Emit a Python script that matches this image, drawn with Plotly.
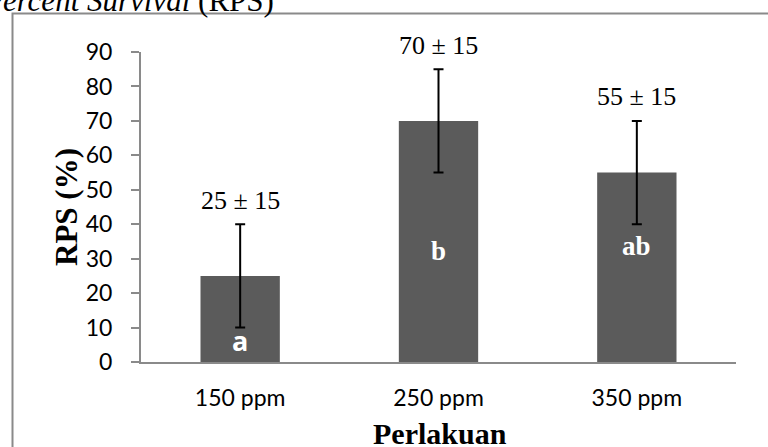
import plotly.graph_objects as go

categories = ["150 ppm", "250 ppm", "350 ppm"]
rps_values = [25, 70, 55]
rps_errors = [15, 15, 15]
letters = ["a", "b", "ab"]
y_ticks = [0, 10, 20, 30, 40, 50, 60, 70, 80, 90]

W, H = 768, 447
L, R, T, B = 141, 32, 52, 85
pw, ph = W - L - R, H - T - B

def px(x):
    return (x - L) / pw

def py(y):
    return (H - B - y) / ph

BAR = "#5b5b5b"
AXIS = "#8a8a8a"

fig = go.Figure()
fig.add_trace(go.Bar(
    x=categories, y=rps_values, width=0.4,
    marker=dict(color=BAR, line=dict(width=0)),
    error_y=dict(type="data", array=rps_errors, visible=True,
                 color="black", thickness=2, width=5),
    hoverinfo="skip", cliponaxis=False,
))

annotations = []
for c, v, e in zip(categories, rps_values, rps_errors):
    annotations.append(dict(
        x=c, y=v + e, xref="x", yref="y", text=f"{v} ± {e}",
        showarrow=False, yanchor="middle", yshift=24,
        font=dict(family="Liberation Serif", size=26, color="black"),
    ))

letter_fonts = ["Open Sans", "Liberation Serif", "Liberation Serif"]
letter_y = [6.1, 32.2, 33.7]
for c, lt, f, ly in zip(categories, letters, letter_fonts, letter_y):
    annotations.append(dict(
        x=c, y=ly, xref="x", yref="y", text=f"<b>{lt}</b>",
        showarrow=False, yanchor="middle",
        font=dict(family=f, size=27, color="white"),
    ))

annotations.append(dict(
    x=px(66), y=py(207), xref="paper", yref="paper", text="<b>RPS (%)</b>",
    textangle=-90, showarrow=False, xanchor="center", yanchor="middle",
    font=dict(family="Liberation Serif", size=31, color="black"),
))
annotations.append(dict(
    x=px(440), y=py(433), xref="paper", yref="paper", text="<b>Perlakuan</b>",
    showarrow=False, xanchor="center", yanchor="middle",
    font=dict(family="Liberation Serif", size=30, color="black"),
))
annotations.append(dict(
    x=px(-19), y=py(20), xref="paper", yref="paper",
    text="<i>Percent Survival</i> (RPS)",
    showarrow=False, xanchor="left", yanchor="bottom",
    font=dict(family="Liberation Serif", size=31, color="black"),
))

shapes = [dict(
    type="rect", xref="paper", yref="paper",
    x0=px(12.5), y0=py(470), x1=px(800), y1=py(13.5),
    line=dict(color=AXIS, width=2), fillcolor="rgba(0,0,0,0)", layer="below",
)]

fig.update_layout(
    width=W, height=H,
    margin=dict(l=L, r=R, t=T, b=B, pad=0),
    paper_bgcolor="white", plot_bgcolor="white",
    showlegend=False, bargap=0.6,
    annotations=annotations, shapes=shapes,
    xaxis=dict(
        range=[-0.5, 2.5], showline=True, linecolor=AXIS, linewidth=2,
        ticks="", showgrid=False, zeroline=False,
        tickfont=dict(family="Lato", size=23, color="black"),
        ticklabelstandoff=14,
    ),
    yaxis=dict(
        range=[0, 90], tickvals=y_ticks, showline=True, linecolor=AXIS,
        linewidth=2, ticks="outside", ticklen=8, tickcolor=AXIS, tickwidth=2,
        showgrid=False, zeroline=False,
        tickfont=dict(family="Lato", size=23, color="black"),
        ticklabelstandoff=14,
    ),
)

fig.write_html("out.html", config={"displayModeBar": False},
               post_script="document.body.style.margin='0';")
